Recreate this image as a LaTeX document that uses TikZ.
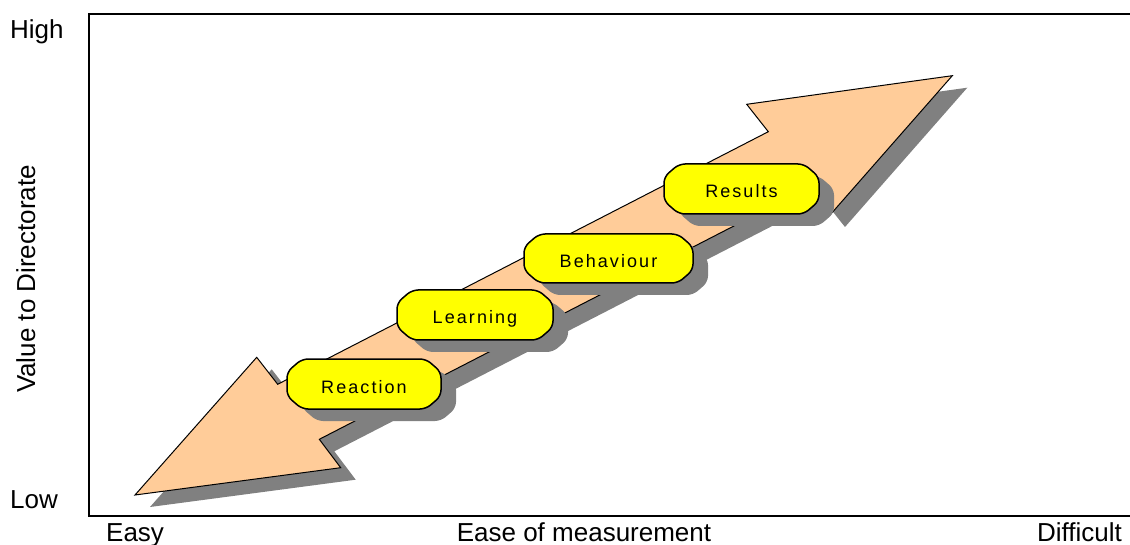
\documentclass[tikz,border=0pt]{standalone}
\usepackage{fontspec}
\setmainfont{Liberation Sans}
\newfontfamily\boxfont[LetterSpace=11.5]{Liberation Sans}
\definecolor{peach}{HTML}{FFCC99}
\definecolor{shadowgray}{HTML}{808080}
\definecolor{boxyellow}{HTML}{FFFF00}
\newcommand\drawstage[6]{%
  \path[shadowshape, shift={(15,12)}] ({(#2+#4)/2},#3) -- (#4-15,#3) -- (#4,#3+13) -- (#4,#5-13) -- (#4-15,#5) -- (#2+15,#5) -- (#2,#5-13) -- (#2,#3+13) -- (#2+15,#3) -- cycle;
  \path[stagebox] ({(#2+#4)/2},#3) -- (#4-15,#3) -- (#4,#3+13) -- (#4,#5-13) -- (#4-15,#5) -- (#2+15,#5) -- (#2,#5-13) -- (#2,#3+13) -- (#2+15,#3) -- cycle;
  \node[stagetext] (#1) at ({(#2+#4)/2},{(#3+#5)/2+9}) {#6};
}
\begin{document}
\begin{tikzpicture}[x=1pt,y=-1pt,
  lbl/.style={font=\fontsize{26}{30}\selectfont, inner sep=0pt},
  stagetext/.style={font=\boxfont\fontsize{18}{21}\selectfont, inner sep=0pt, anchor=base},
  arrowshape/.style={fill=peach, draw=black, line width=1pt, line join=miter},
  shadowshape/.style={fill=shadowgray, rounded corners=6pt},
  stagebox/.style={fill=boxyellow, draw=black, line width=1.5pt, rounded corners=6pt},
  frame/.style={draw=black, line width=2pt}]
\useasboundingbox (0,0) rectangle (1130,545);
% frame
\draw[frame] (1140,14) -- (89,14) -- (89,516) -- (1140,516);
% arrow shadow
\path[fill=shadowgray, shift={(15,12)}] (135,495) -- (256.7,357.3) -- (277.7,384.3) -- (768.3,131.7) -- (746.7,104.3) -- (952.3,75.7) -- (830,215) -- (808.3,187.7) -- (319.3,439.3) -- (340.7,467.7) -- cycle;
% arrow
\path[arrowshape] (135,495) -- (256.7,357.3) -- (277.7,384.3) -- (768.3,131.7) -- (746.7,104.3) -- (952.3,75.7) -- (830,215) -- (808.3,187.7) -- (319.3,439.3) -- (340.7,467.7) -- cycle;
% stages
\drawstage{reaction}{287}{359}{441}{409}{Reaction}
\drawstage{learning}{397}{290}{553}{340}{Learning}
\drawstage{behaviour}{524}{234}{693}{283}{Behaviour}
\drawstage{results}{664}{164}{819}{214}{Results}
% axis labels
\node[lbl, anchor=base west] (high) at (10,39) {High};
\node[lbl, anchor=base west] (low) at (10,508) {Low};
\node[lbl, anchor=base west] (easy) at (106,541.5) {Easy};
\node[lbl, anchor=base] (ease) at (584,541.5) {Ease of measurement};
\node[lbl, anchor=base east] (difficult) at (1122,541.5) {Difficult};
\node[lbl, anchor=base, rotate=90] (value) at (35,279) {Value to Directorate};
\end{tikzpicture}
\end{document}
